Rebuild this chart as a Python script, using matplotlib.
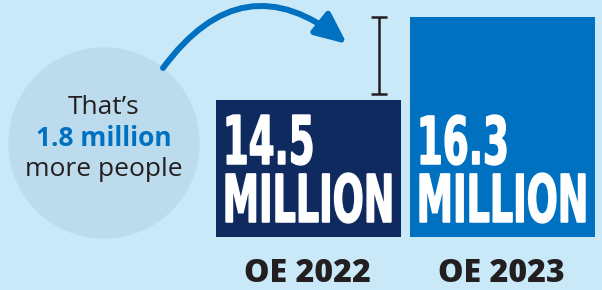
import matplotlib
matplotlib.use("Agg")
import matplotlib.pyplot as plt
from matplotlib.patches import Circle, FancyArrowPatch, PathPatch
from matplotlib.textpath import TextPath
from matplotlib.font_manager import FontProperties
from matplotlib.transforms import Affine2D

# data
years = ["OE 2022", "OE 2023"]
values = [14.5, 16.3]           # millions of people
diff_label = "1.8 million"

bg = "#c9e8f8"
bar_colors = ["#0e2a5e", "#0070c0"]
dark = "#231f20"

W, H = 602, 290
fig = plt.figure(figsize=(W / 100, H / 100), dpi=100, facecolor=bg)

# bar axes: bottom at pixel 237, top at pixel 0, x from 216 to 595
base = 11.53
ppu = 220 / (values[1] - base)          # pixels per million
ax = fig.add_axes([216 / W, (H - 237) / H, (595 - 216) / W, 237 / H])
ax.set_facecolor("none")
ax.bar(range(len(values)), [v - base for v in values], bottom=base, width=185 / 194,
       color=bar_colors, zorder=2)
ax.set_xlim(-0.5 * 185 / 194, 1 + 0.5 * 185 / 194)
ax.set_ylim(base, values[1] + 17 / ppu)
ax.axis("off")

# bracket showing the increase
xb = (379 - 216) / 194 - 0.5 * 185 / 194
lo = values[0] + 6 / ppu
ax.errorbar([xb], [(values[1] + lo) / 2], yerr=[(values[1] - lo) / 2], fmt="none",
            ecolor=dark, elinewidth=1.8, capsize=6, capthick=1.8, zorder=3)

# overlay in pixel coordinates
ov = fig.add_axes([0, 0, 1, 1])
ov.set_xlim(0, W)
ov.set_ylim(H, 0)
ov.set_facecolor("none")
ov.axis("off")

ov.add_patch(Circle((104, 143), 95, color="#bcdbed", zorder=1))
ov.text(104, 108, "That\u2019s", ha="center", va="center", fontsize=19,
        family="Open Sans", color=dark)
ov.text(104, 139, diff_label, ha="center", va="center", fontsize=19,
        family="Open Sans", weight="bold", color="#0070c0")
ov.text(104, 170, "more people", ha="center", va="center", fontsize=19,
        family="Open Sans", color=dark)

arrow = FancyArrowPatch((163, 68), (347, 44), connectionstyle="arc3,rad=-0.52",
                        arrowstyle="-|>,head_length=19,head_width=8.5",
                        color="#0070c0", lw=4.3, shrinkA=0, shrinkB=0, zorder=3)
ov.add_patch(arrow)

# condensed heavy numbers inside bars
heavy = FontProperties(family="DejaVu Sans", weight="bold")


def draw_block(s, x, ytop, width, height):
    tp = TextPath((0, 0), s, size=50, prop=heavy)
    bb = tp.get_extents()
    tr = Affine2D().translate(-bb.x0, -bb.y0).scale(width / bb.width, -height / bb.height)
    tr = tr.translate(x, ytop + height)
    ov.add_patch(PathPatch(tr.transform_path(tp), facecolor="white", edgecolor="white",
                           lw=1.0, zorder=4))


bar_left = [216, 410]
for i, v in enumerate(values):
    draw_block(f"{v}", bar_left[i] + 11, 115, 85, 50)
    draw_block("MILLION", bar_left[i] + 10, 173, 165, 50)
    ov.text(bar_left[i] + 91, 274, years[i], ha="center", va="center", fontsize=23,
            family="Open Sans", weight="heavy", color=dark)

fig.savefig("out.png", dpi=100, facecolor=bg)
